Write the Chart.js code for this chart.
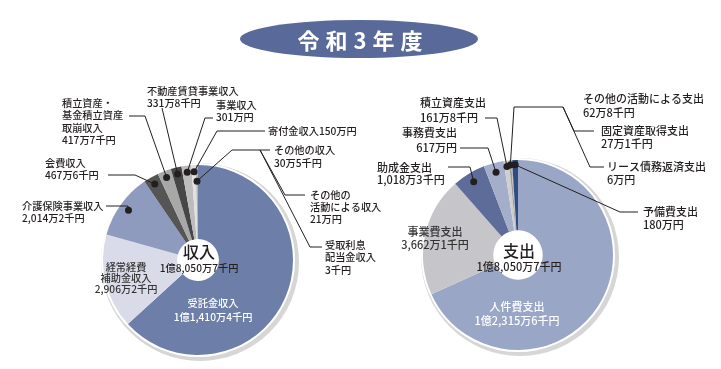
<!DOCTYPE html>
<html lang="ja">
<head>
<meta charset="utf-8">
<title>令和3年度 収入・支出</title>
<script src="https://cdn.jsdelivr.net/npm/chart.js@4.4.0/dist/chart.umd.min.js"></script>
<style>
    html, body { margin: 0; padding: 0; background: #fff; }
    #wrap { position: relative; width: 721px; height: 369px; overflow: hidden; }
    #wrap canvas { position: absolute; left: 0; top: 0; }
</style>
</head>
<body>
<div id="wrap">
    <canvas id="incomeChart" width="721" height="369"></canvas>
    <canvas id="expenseChart" width="721" height="369"></canvas>
</div>
<script>
// Data (万円)
const incomeNames = [
    ['受託金収入'], ['経常経費', '補助金収入'], ['介護保険事業収入'], ['会費収入'],
    ['積立資産・', '基金積立資産', '取崩収入'], ['不動産賃貸事業収入'], ['事業収入'],
    ['寄付金収入'], ['その他の収入'], ['その他の', '活動による収入'], ['受取利息', '配当金収入']
];
const incomeValues = [11410.4, 2906.2, 2014.2, 467.6, 417.7, 331.8, 301, 150, 30.5, 21, 0.3];
const incomeAmounts = ['1億1,410万4千円', '2,906万2千円', '2,014万2千円', '467万6千円', '417万7千円',
    '331万8千円', '301万円', '150万円', '30万5千円', '21万円', '3千円'];

const expenseNames = [
    ['人件費支出'], ['事業費支出'], ['助成金支出'], ['事務費支出'], ['積立資産支出'],
    ['その他の活動による支出'], ['固定資産取得支出'], ['リース債務返済支出'], ['予備費支出']
];
const expenseValues = [12315.6, 3662.1, 1018.3, 617, 161.8, 62.8, 27.1, 6, 180];
const expenseAmounts = ['1億2,315万6千円', '3,662万1千円', '1,018万3千円', '617万円', '161万8千円',
    '62万8千円', '27万1千円', '6万円', '180万円'];

const totalText = '1億8,050万7千円';

// Colours
const incomeColors = ['#6d7ea8', '#d9dce8', '#8e9bbe', '#555555', '#a8a8a8', '#464646',
    '#bcbcbc', '#e0e0e0', '#858585', '#a0a0a0', '#cccccc'];
const expenseColors = ['#9aa6c5', '#c6c6ca', '#5d6c99', '#a4aecb', '#cfcfcf', '#9a9a9a',
    '#bdbdbd', '#777777', '#2d4c82'];

const FONT = '"Noto Sans CJK JP", "Noto Sans", sans-serif';
const INK = '#231f20';

// Label layout
const incomeInside = [
    { i: 0, x: 213, y: 303, lh: 14, color: '#ffffff' },
    { i: 1, x: 126, y: 267, lh: 11, color: '#333333' }
];
const incomeCallouts = [
    { i: 2, x: 22, y: 206, lh: 12, path: [[106, 206], [128, 206]], dot: 0.9 },
    { i: 3, x: 45, y: 163, lh: 12, path: [[108, 175], [135, 175]], dot: 0.92 },
    { i: 4, x: 62, y: 103, lh: 12.5, path: [[129, 116], [145, 116]], dot: 0.93 },
    { i: 5, x: 147, y: 91, lh: 12.5, path: [[162, 108]], dot: 0.93 },
    { i: 6, x: 216, y: 105, lh: 12.5, path: [[213, 118], [205, 118]], dot: 0.93 },
    { i: 7, x: 268, y: 131, inline: true, path: [[265, 131], [217, 131]], dot: 0.93 },
    { i: 8, x: 274, y: 150, lh: 13, path: [[270, 150], [232, 150]], dot: 0.83 },
    { i: 9, x: 310, y: 195, lh: 12, path: [[305, 195], [285, 195], [260, 150]] },
    { i: 10, x: 325, y: 245, lh: 12.5, path: [[322, 247], [310, 247], [260, 150]] }
];

const expenseInside = [
    { i: 0, x: 517, y: 307, lh: 14, color: '#ffffff' },
    { i: 1, x: 435, y: 232, lh: 13, color: '#333333' }
];
const expenseCallouts = [
    { i: 2, x: 377, y: 168, lh: 12, path: [[448, 167], [470, 167]], dot: 0.9 },
    { i: 3, x: 457, y: 133, lh: 15, align: 'right', path: [[460, 148], [488, 148]], dot: 0.9 },
    { i: 4, x: 420, y: 103, lh: 15, path: [[485, 118], [497, 118]], dot: 0.94 },
    { i: 5, x: 583, y: 99, lh: 14, path: [[563, 107], [514, 107]], dot: 0.95 },
    { i: 6, x: 601, y: 131, lh: 12.5, path: [[594, 131], [574, 131], [563, 107]] },
    { i: 7, x: 607, y: 167, lh: 12.5, path: [[604, 167], [590, 167], [563, 107]] },
    { i: 8, x: 643, y: 212, lh: 13, path: [[638, 212], [620, 212]], dot: 0.95 }
];

// Draws the grey drop ring behind the pie and the white centre
const ringPlugin = {
    id: 'ring',
    beforeDatasetsDraw(chart) {
        const arc = chart.getDatasetMeta(0).data[0];
        if (!arc) return;
        const { x, y, outerRadius } = arc.getProps(['x', 'y', 'outerRadius'], true);
        const ctx = chart.ctx;
        ctx.save();
        ctx.fillStyle = '#d6d6d6';
        ctx.beginPath();
        ctx.arc(x + 2, y + 2, outerRadius + 4, 0, Math.PI * 2);
        ctx.fill();
        ctx.fillStyle = '#ffffff';
        ctx.beginPath();
        ctx.arc(x, y, outerRadius + 2, 0, Math.PI * 2);
        ctx.fill();
        ctx.restore();
    }
};

// Draws texts, leader lines and dots
const labelPlugin = {
    id: 'labels',
    afterDatasetsDraw(chart, args, opts) {
        const ctx = chart.ctx;
        const meta = chart.getDatasetMeta(0);
        const first = meta.data[0].getProps(['x', 'y'], true);
        const size = opts.fontSize;

        ctx.save();
        ctx.textBaseline = 'middle';

        // title
        if (opts.title) {
            ctx.fillStyle = '#596a9a';
            ctx.beginPath();
            ctx.ellipse(359, 39, 119, 19, 0, 0, Math.PI * 2);
            ctx.fill();
            ctx.fillStyle = '#ffffff';
            ctx.font = 'bold 22px ' + FONT;
            ctx.textAlign = 'center';
            ctx.letterSpacing = '6px';
            ctx.fillText(opts.title, 363, 41);
            ctx.letterSpacing = '0px';
        }

        // centre
        ctx.fillStyle = INK;
        ctx.textAlign = 'center';
        ctx.font = '500 16px ' + FONT;
        ctx.fillText(opts.center, first.x + 1, opts.centerY);
        ctx.font = '500 ' + size + 'px ' + FONT;
        ctx.fillText(totalText, first.x + 1, opts.centerY + 16);

        // inside labels
        opts.inside.forEach(l => {
            ctx.fillStyle = l.color;
            const lines = opts.names[l.i].concat([opts.amounts[l.i]]);
            lines.forEach((t, k) => ctx.fillText(t, l.x, l.y + k * l.lh));
        });

        // callouts
        ctx.strokeStyle = INK;
        ctx.lineWidth = 1;
        ctx.fillStyle = INK;
        opts.callouts.forEach(l => {
            ctx.textAlign = l.align || 'left';
            if (l.inline) {
                ctx.fillText(opts.names[l.i].join('') + opts.amounts[l.i], l.x, l.y);
            } else {
                const lines = opts.names[l.i].concat([opts.amounts[l.i]]);
                lines.forEach((t, k) => ctx.fillText(t, l.x, l.y + k * l.lh));
            }
            const pts = l.path.slice();
            let dot = null;
            if (l.dot) {
                const a = meta.data[l.i].getProps(['x', 'y', 'startAngle', 'endAngle', 'outerRadius'], true);
                const mid = (a.startAngle + a.endAngle) / 2;
                dot = [a.x + Math.cos(mid) * a.outerRadius * l.dot, a.y + Math.sin(mid) * a.outerRadius * l.dot];
                pts.push(dot);
            }
            ctx.beginPath();
            ctx.moveTo(pts[0][0], pts[0][1]);
            for (let k = 1; k < pts.length; k++) ctx.lineTo(pts[k][0], pts[k][1]);
            ctx.stroke();
            if (dot) {
                ctx.beginPath();
                ctx.arc(dot[0], dot[1], 3.5, 0, Math.PI * 2);
                ctx.fill();
            }
        });
        ctx.restore();
    }
};

function makePie(id, names, values, colors, padding, cutout, labelOpts) {
    const ctx = document.getElementById(id).getContext('2d');
    return new Chart(ctx, {
        type: 'doughnut',
        data: {
            labels: names.map(n => n.join('')),
            datasets: [{
                data: values,
                backgroundColor: colors,
                borderWidth: 0
            }]
        },
        options: {
            responsive: false,
            animation: false,
            cutout: cutout,
            layout: { padding: padding },
            plugins: {
                legend: { display: false },
                tooltip: { enabled: false },
                labels: labelOpts
            }
        },
        plugins: [ringPlugin, labelPlugin]
    });
}

makePie('incomeChart', incomeNames, incomeValues, incomeColors,
    { left: 103, top: 165, right: 428, bottom: 14 }, '22%', {
        title: '令和3年度',
        center: '収入',
        centerY: 252,
        fontSize: 10.2,
        names: incomeNames,
        amounts: incomeAmounts,
        inside: incomeInside,
        callouts: incomeCallouts
    });

makePie('expenseChart', expenseNames, expenseValues, expenseColors,
    { left: 423, top: 160, right: 108, bottom: 19 }, '26%', {
        center: '支出',
        centerY: 251,
        fontSize: 11,
        names: expenseNames,
        amounts: expenseAmounts,
        inside: expenseInside,
        callouts: expenseCallouts
    });
</script>
</body>
</html>
